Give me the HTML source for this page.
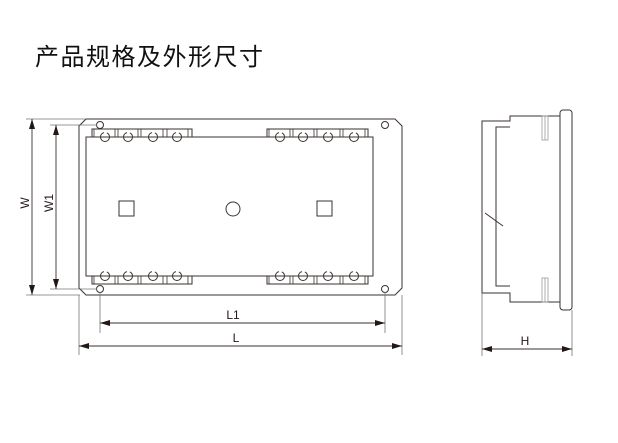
<!DOCTYPE html>
<html><head><meta charset="utf-8"><style>
html,body{margin:0;padding:0;background:#fff;}
svg{display:block;}
</style></head><body>
<svg width="618" height="443" viewBox="0 0 618 443" xmlns="http://www.w3.org/2000/svg">
<defs>
<marker id="ar" markerWidth="10" markerHeight="6" refX="10" refY="3" orient="auto-start-reverse" markerUnits="userSpaceOnUse">
<path d="M0,0 L10,3 L0,6 Z" fill="#231815"/></marker>
</defs>
<text x="35" y="65" font-family="'Liberation Sans','Noto Sans CJK SC',sans-serif" font-size="24" letter-spacing="1.5" fill="#111">产品规格及外形尺寸</text>
<g fill="none" stroke="#3a3230" stroke-width="1">
<path d="M86,119 L395,119 L402,126 L402,288 L395,295 L86,295 L79,288 L79,126 Z"/>
<circle cx="100" cy="125" r="3.5"/><circle cx="385" cy="125" r="3.5"/>
<circle cx="100" cy="289" r="3.5"/><circle cx="385" cy="289" r="3.5"/>
<rect x="92" y="129" width="100" height="8"/>
<rect x="267" y="129" width="101" height="8"/>
<rect x="92" y="276" width="100" height="8"/>
<rect x="267" y="276" width="101" height="8"/>
<g stroke-width="0.8">
<path d="M94,129V137M115,129V137M118,129V137M138,129V137M141,129V137M163,129V137M167,129V137M188,129V137"/>
<path d="M269,129V137M290,129V137M293,129V137M314,129V137M317,129V137M340,129V137M343,129V137M365,129V137"/>
<path d="M94,276V284M115,276V284M118,276V284M138,276V284M141,276V284M163,276V284M167,276V284M188,276V284"/>
<path d="M269,276V284M290,276V284M293,276V284M314,276V284M317,276V284M340,276V284M343,276V284M365,276V284"/>
</g>
<rect x="86" y="137" width="287" height="139" fill="#fff"/>
<g stroke-dasharray="20 3">
<circle cx="105" cy="137" r="4.5"/><circle cx="128" cy="137" r="4.5"/><circle cx="153" cy="137" r="4.5"/><circle cx="177" cy="137" r="4.5"/>
<circle cx="280" cy="137" r="4.5"/><circle cx="303" cy="137" r="4.5"/><circle cx="328" cy="137" r="4.5"/><circle cx="354" cy="137" r="4.5"/>
<circle cx="105" cy="276" r="4.5"/><circle cx="128" cy="276" r="4.5"/><circle cx="153" cy="276" r="4.5"/><circle cx="177" cy="276" r="4.5"/>
<circle cx="280" cy="276" r="4.5"/><circle cx="303" cy="276" r="4.5"/><circle cx="328" cy="276" r="4.5"/><circle cx="354" cy="276" r="4.5"/>
</g>
<rect x="119" y="201" width="15" height="15"/>
<rect x="317" y="201" width="15" height="15"/>
<circle cx="233" cy="209" r="7"/>
<path d="M482,121 L510,121 L510,116 L560,116 L560,302 L510,302 L510,293 L482,293 Z"/>
<path d="M510,127 L496,127 L496,286 L510,286"/>
<rect x="560" y="110" width="12" height="200" rx="3"/>
<path d="M485,213 L503,226"/>
<g stroke="#999" stroke-width="0.8">
<rect x="542" y="116" width="6" height="24"/><path d="M545,116V140"/>
<rect x="542" y="278" width="6" height="24"/><path d="M545,278V302"/>
</g>
</g>
<g stroke="#777" stroke-width="0.8" fill="none">
<path d="M26,119H85M50,125H97M26,295H80M50,289H97"/>
<path d="M79,295V355M402,295V355M100,292V333M385,292V333"/>
<path d="M482,293V356M572,310V356"/>
</g>
<g stroke="#3a3230" stroke-width="0.9">
<line x1="32" y1="119" x2="32" y2="295" marker-start="url(#ar)" marker-end="url(#ar)"/>
<line x1="56" y1="125" x2="56" y2="289" marker-start="url(#ar)" marker-end="url(#ar)"/>
<line x1="100" y1="323" x2="385" y2="323" marker-start="url(#ar)" marker-end="url(#ar)"/>
<line x1="79" y1="346" x2="402" y2="346" marker-start="url(#ar)" marker-end="url(#ar)"/>
<line x1="482" y1="349" x2="572" y2="349" marker-start="url(#ar)" marker-end="url(#ar)"/>
</g>
<g font-family="'Liberation Sans',sans-serif" font-size="12" fill="#231815">
<text x="233" y="319" text-anchor="middle">L1</text>
<text x="236" y="342" text-anchor="middle">L</text>
<text x="525" y="345" text-anchor="middle">H</text>
<text transform="translate(29,203) rotate(-90)" text-anchor="middle">W</text>
<text transform="translate(53,203) rotate(-90)" text-anchor="middle">W1</text>
</g>
</svg>
</body></html>
